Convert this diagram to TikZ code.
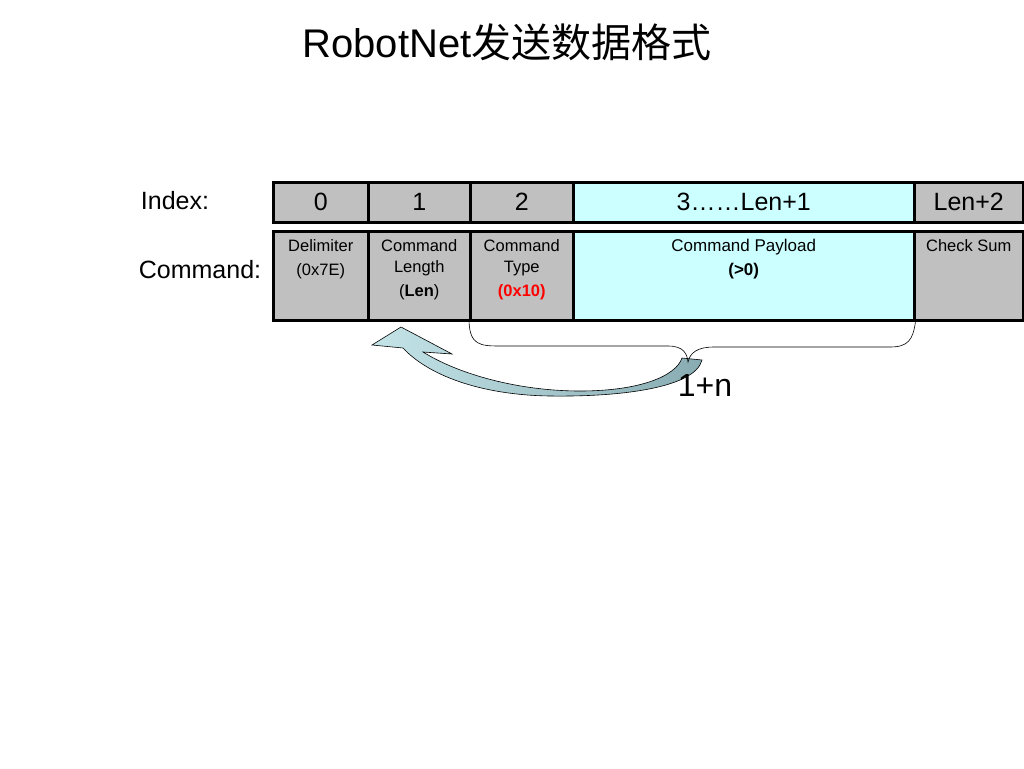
\documentclass[tikz,border=0pt]{standalone}
\usepackage{fontspec}
\setmainfont{Liberation Sans}
\newfontfamily\cjk{Noto Sans CJK SC}
\usetikzlibrary{positioning}
\definecolor{cellgray}{HTML}{C0C0C0}
\definecolor{cellcyan}{HTML}{CCFFFF}
\definecolor{arrowlight}{RGB}{196,228,232}
\definecolor{arrowdark}{RGB}{136,172,178}
\tikzset{
    cell/.style={draw=black, line width=2.5pt, inner sep=0pt, anchor=north west},
    idxtext/.style={font=\fontsize{25}{30}\selectfont},
    cmdtext/.style={font=\fontsize{16.5}{21}\selectfont, align=center, anchor=north, inner sep=0pt},
    rowlabel/.style={font=\fontsize{25}{30}\selectfont, inner sep=0pt},
}
\begin{document}
\begin{tikzpicture}[x=1pt, y=-1pt]
    \useasboundingbox (0,0) rectangle (1024,768);
    % Title
    \node[font=\fontsize{40}{48}\selectfont] (title) at (507,42) {RobotNet{\cjk 发送数据格式}};

    % Row labels
    \node[rowlabel] (indexlbl) at (175,201) {Index:};
    \node[rowlabel] (cmdlbl) at (200,270) {Command:};

    % Index row and command row
    \foreach \x/\w/\c/\t/\n in {272/95/cellgray/0/0, 367/102/cellgray/1/1, 469/103/cellgray/2/2,
                                572/341/cellcyan/3……Len+1/3, 913/109/cellgray/Len+2/4} {
        \node[cell, fill=\c, minimum width=\w pt, minimum height=40pt, idxtext] (i\n) at (\x,181) {\t};
        \node[cell, fill=\c, minimum width=\w pt, minimum height=89pt] (c\n) at (\x,230) {};
    }

    % Texts of the command cells
    \node[cmdtext, below=9pt of c0.north] (delim) {Delimiter\\[3pt](0x7E)};
    \node[cmdtext, below=9pt of c1.north] (cmdlen) {Command\\Length\\[3pt](\textbf{Len})};
    \node[cmdtext, below=9pt of c2.north] (cmdtype) {Command\\Type\\[3pt]\textcolor{red}{\textbf{(0x10)}}};
    \node[cmdtext, below=9pt of c3.north, font=\fontsize{17}{21}\selectfont] (payload) {Command Payload\\[3pt]\textbf{(>0)}};
    \node[cmdtext, below=9pt of c4.north] (chksum) {Check Sum};

    % Curved arrow back to the length field
    \path[draw=black, line width=0.6pt, left color=arrowlight, right color=arrowdark]
        (372,345) -- (401,327) -- (452,354) -- (423,352)
        .. controls (460,375) and (520,391) .. (580,391)
        .. controls (640,391) and (676,376) .. (682,358)
        -- (702,360)
        .. controls (695,388) and (620,397) .. (550,396)
        .. controls (480,395) and (428,375) .. (403,348) -- cycle;

    % Brace under type and payload
    \draw[line width=0.6pt] (c2.south west) .. controls (470,345) and (480,346) .. (500,346)
        -- (668,346) .. controls (684,346) and (687,354) .. (688,362)
        .. controls (690,353) and (697,347) .. (714,347)
        -- (890,347) .. controls (908,347) and (913,340) .. (c3.south east);

    \node[font=\fontsize{32}{36}\selectfont] (count) at (705,385) {1+n};
\end{tikzpicture}
\end{document}
